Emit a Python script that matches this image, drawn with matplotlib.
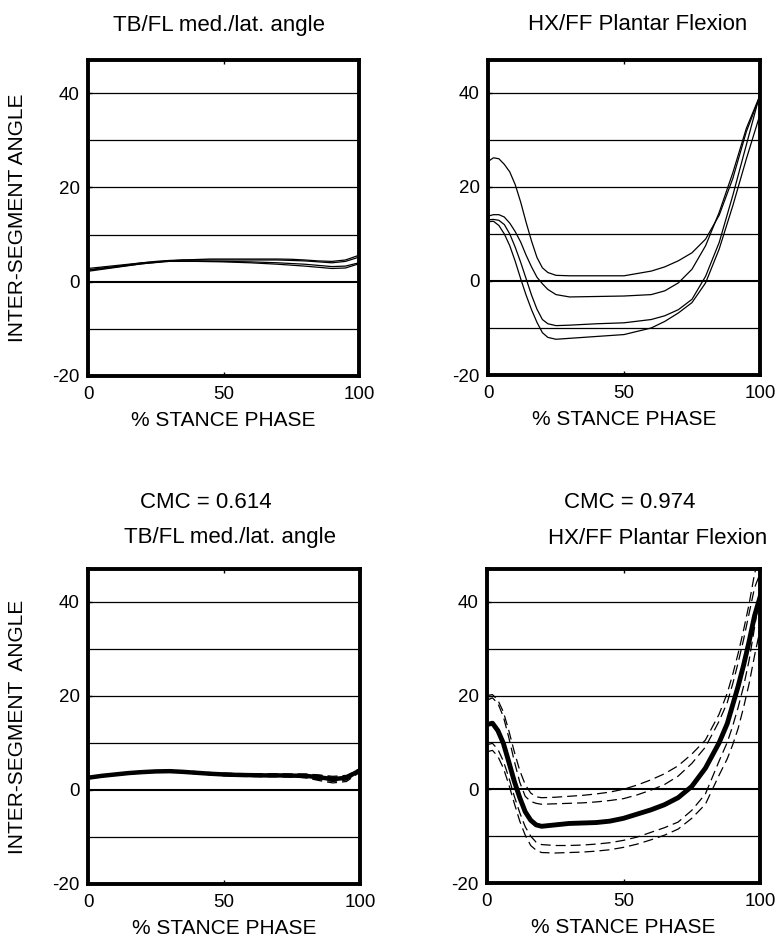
import matplotlib
matplotlib.use("Agg")
import matplotlib.pyplot as plt

plt.rcParams['font.family'] = ['Liberation Sans', 'DejaVu Sans']

# ---- data ----
x_tl = [0, 5, 10, 15, 20, 25, 30, 35, 40, 45, 50, 55, 60, 65, 70, 75, 80, 85, 90, 95, 100]
tl_trials = [
    [2.2, 2.6, 3.0, 3.4, 3.8, 4.1, 4.4, 4.6, 4.7, 4.8, 4.8, 4.8, 4.8, 4.8, 4.8, 4.75, 4.6, 4.4, 4.3, 4.6, 5.6],
    [2.5, 2.9, 3.2, 3.6, 4.0, 4.3, 4.5, 4.6, 4.6, 4.6, 4.6, 4.6, 4.6, 4.6, 4.6, 4.5, 4.4, 4.2, 4.0, 4.3, 5.2],
    [2.8, 3.1, 3.4, 3.7, 4.0, 4.2, 4.4, 4.4, 4.4, 4.35, 4.3, 4.25, 4.2, 4.1, 4.0, 3.85, 3.7, 3.45, 3.2, 3.3, 4.0],
    [2.4, 2.75, 3.1, 3.45, 3.8, 4.05, 4.3, 4.3, 4.3, 4.25, 4.2, 4.1, 4.0, 3.85, 3.7, 3.5, 3.3, 3.05, 2.8, 2.9, 3.8],
]

x_tr = [0, 2, 4, 6, 8, 10, 12, 14, 16, 18, 20, 22, 25, 30, 40, 50, 60, 65, 70, 75, 80, 85, 90, 95, 100]
tr_trials = [
    [25.4, 26.2, 26.0, 24.8, 23.2, 20.5, 16.8, 12.5, 8.5, 5.0, 2.8, 1.8, 1.2, 1.1, 1.1, 1.1, 2.1, 3.0, 4.3, 6.0, 8.9, 14.0, 21.8, 31.8, 39.3],
    [13.8, 14.1, 14.1, 13.6, 12.3, 10.5, 8.3, 5.5, 3.0, 0.8, -0.6, -1.8, -2.9, -3.4, -3.3, -3.2, -2.9, -2.1, -0.4, 2.5, 7.5, 14.6, 23.0, 32.5, 39.5],
    [13.0, 13.1, 12.9, 12.0, 10.0, 7.2, 4.0, 0.5, -3.0, -6.0, -8.2, -9.1, -9.5, -9.4, -9.1, -8.9, -8.2, -7.4, -6.1, -3.9, 1.0, 8.2, 18.2, 29.0, 39.8],
    [12.6, 12.7, 11.8, 10.0, 7.5, 4.2, 0.5, -3.0, -6.1, -8.8, -11.0, -12.0, -12.4, -12.2, -11.8, -11.4, -10.0, -8.6, -6.8, -4.6, -0.4, 6.8, 16.0, 26.0, 35.4],
]

x_bl = x_tl
bl_mean = [2.6, 3.0, 3.3, 3.6, 3.8, 3.95, 4.0, 3.85, 3.65, 3.45, 3.3, 3.2, 3.15, 3.1, 3.1, 3.05, 3.0, 2.7, 2.3, 2.6, 4.2]
bl_bands = [
    [2.8, 3.2, 3.5, 3.8, 4.0, 4.1, 4.2, 4.1, 3.9, 3.7, 3.6, 3.5, 3.45, 3.45, 3.45, 3.4, 3.4, 3.2, 2.9, 3.1, 4.5],
    [2.4, 2.8, 3.1, 3.4, 3.6, 3.8, 3.8, 3.7, 3.4, 3.2, 3.0, 2.9, 2.85, 2.8, 2.8, 2.75, 2.6, 2.2, 1.8, 2.1, 3.9],
    [2.7, 3.1, 3.4, 3.7, 3.9, 4.0, 4.05, 3.95, 3.75, 3.55, 3.4, 3.3, 3.3, 3.3, 3.3, 3.3, 3.3, 3.1, 2.7, 2.9, 4.3],
    [2.5, 2.9, 3.2, 3.5, 3.7, 3.85, 3.9, 3.75, 3.55, 3.35, 3.2, 3.1, 3.0, 2.95, 2.9, 2.8, 2.6, 2.0, 1.5, 1.8, 3.8],
]

x_br = [0, 2, 4, 6, 8, 10, 12, 14, 16, 18, 20, 25, 30, 35, 40, 45, 50, 55, 60, 65, 70, 75, 80, 85, 88, 90, 92, 94, 96, 98, 100]
br_mean = [13.8, 14.1, 12.5, 9.8, 5.8, 1.7, -1.8, -4.8, -6.6, -7.6, -7.9, -7.6, -7.3, -7.2, -7.1, -6.8, -6.2, -5.3, -4.4, -3.3, -1.8, 0.6, 4.5, 9.9, 14.0, 18.0, 22.0, 26.5, 31.5, 37.0, 41.0]
br_bands = [
    [20.0, 20.2, 19.0, 16.5, 12.5, 8.0, 4.0, 1.0, -0.8, -1.6, -1.8, -1.7, -1.5, -1.3, -1.0, -0.6, 0.0, 0.9, 2.0, 3.3, 5.0, 7.5, 10.5, 16.0, 20.5, 24.5, 29.0, 34.0, 39.5, 46.0, 50.0],
    [19.0, 19.5, 18.3, 15.5, 11.0, 6.0, 1.5, -1.5, -2.6, -3.0, -3.2, -3.1, -3.0, -2.9, -2.7, -2.4, -2.0, -1.2, -0.2, 1.0, 2.8, 5.5, 9.0, 14.5, 18.5, 22.5, 27.0, 32.0, 37.5, 43.0, 46.0],
    [9.5, 9.8, 8.5, 6.0, 2.5, -1.5, -5.0, -8.0, -10.0, -11.3, -11.8, -12.0, -12.0, -11.9, -11.7, -11.4, -10.9, -10.2, -9.2, -8.2, -7.0, -4.5, -1.0, 6.0, 10.0, 13.5, 17.5, 22.0, 27.5, 34.5, 42.0],
    [8.0, 8.3, 7.0, 4.5, 1.0, -3.0, -6.8, -9.8, -12.0, -13.0, -13.5, -13.6, -13.5, -13.4, -13.2, -12.9, -12.4, -11.7, -10.8, -9.8, -8.5, -6.2, -3.2, 3.0, 6.5, 9.5, 13.0, 17.5, 22.5, 28.5, 34.0],
]

grid_levels = [40, 30, 20, 10, 0, -10]
y_ticks = [-20, 0, 20, 40]
x_ticks = [0, 50, 100]

W, H = 779, 942
fig = plt.figure(figsize=(W / 100, H / 100), dpi=100)


def make_axes(left, top, right, bottom):
    return fig.add_axes([left / W, (H - bottom) / H, (right - left) / W, (bottom - top) / H])


def style(ax, ylabel=None):
    ax.set_xlim(0, 100)
    ax.set_ylim(-20, 47)
    for g in grid_levels:
        ax.axhline(g, color="black", lw=1.5 if g == 0 else 0.9, zorder=1)
    for s in ax.spines.values():
        s.set_linewidth(2.8)
    ax.set_xticks(x_ticks)
    ax.set_yticks(y_ticks)
    ax.set_yticklabels([str(v) for v in y_ticks])
    ax.tick_params(direction="in", length=3, width=1, top=True, labelsize=13.5)
    ax.tick_params(axis="x", pad=7)
    ax.tick_params(axis="y", pad=6)
    ax.set_xlabel("% STANCE PHASE", fontsize=15, labelpad=6)
    if ylabel:
        ax.set_ylabel(ylabel, fontsize=15, labelpad=18)


ax_tl = make_axes(88, 60, 359, 376)
ax_tr = make_axes(488, 60, 760, 375)
ax_bl = make_axes(88, 569, 360, 884)
ax_br = make_axes(487, 569, 760, 883)

style(ax_tl, "INTER-SEGMENT ANGLE")
style(ax_tr)
style(ax_bl, "INTER-SEGMENT  ANGLE")
style(ax_br)

for tr in tl_trials:
    ax_tl.plot(x_tl, tr, color="black", lw=0.9, zorder=3)
for tr in tr_trials:
    ax_tr.plot(x_tr, tr, color="black", lw=0.9, zorder=3)

for b in bl_bands:
    ax_bl.plot(x_bl, b, color="black", lw=0.9, ls=(0, (8, 4)), zorder=3)
ax_bl.plot(x_bl, bl_mean, color="black", lw=3.2, zorder=4)

for b in br_bands:
    ax_br.plot(x_br, b, color="black", lw=0.9, ls=(0, (8, 4)), zorder=3)
ax_br.plot(x_br, br_mean, color="black", lw=3.5, zorder=4)

# titles
fig.text(219 / W, 1 - 25 / H, "TB/FL med./lat. angle", ha="center", va="center", fontsize=16)
fig.text(638 / W, 1 - 25 / H, "HX/FF Plantar Flexion", ha="center", va="center", fontsize=16)
fig.text(206 / W, 1 - 503 / H, "CMC = 0.614", ha="center", va="center", fontsize=16)
fig.text(230 / W, 1 - 538 / H, "TB/FL med./lat. angle", ha="center", va="center", fontsize=16)
fig.text(630 / W, 1 - 503 / H, "CMC = 0.974", ha="center", va="center", fontsize=16)
fig.text(658 / W, 1 - 538 / H, "HX/FF Plantar Flexion", ha="center", va="center", fontsize=16)

fig.savefig("out.png", dpi=100)
